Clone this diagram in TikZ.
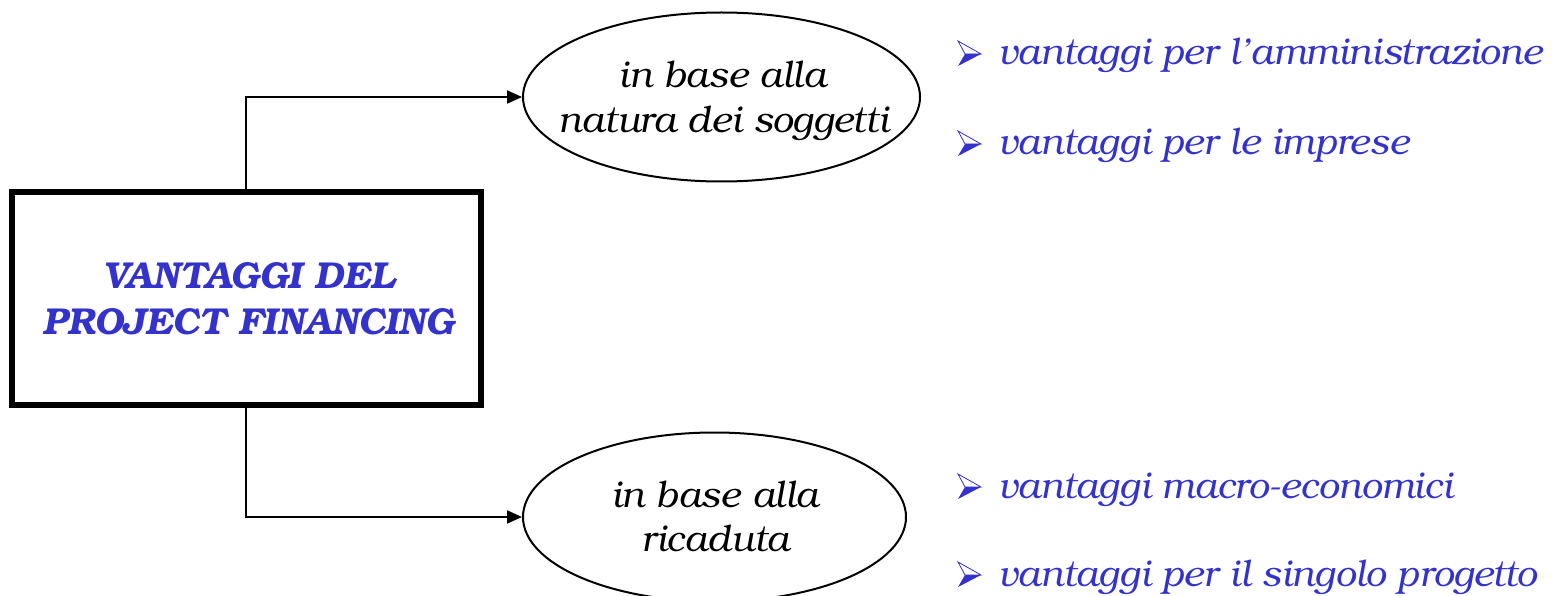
\documentclass[tikz,border=0pt]{standalone}
\usepackage{fontspec}
\setmainfont{TeX Gyre Bonum}
\usetikzlibrary{arrows.meta,shapes.geometric}
\definecolor{txtblue}{RGB}{51,51,204}
\tikzset{
  mainbox/.style={draw=black, line width=6pt, minimum width=469pt, minimum height=213pt,
    inner sep=0pt},
  boxtext/.style={anchor=base, inner sep=0pt, text=txtblue,
    font=\fontsize{37.5}{46}\selectfont\bfseries\itshape},
  topic/.style={ellipse, draw=black, line width=2pt, inner sep=0pt},
  topictext/.style={anchor=base, inner sep=0pt,
    font=\fontsize{37}{45}\selectfont\itshape},
  link/.style={line width=2pt, -{Triangle[length=15pt,width=13pt]}},
  item/.style={anchor=base west, inner sep=0pt, text=txtblue,
    font=\fontsize{37}{45}\selectfont\itshape},
  bulletmark/.pic={
    \draw[txtblue, line width=0.8pt, line join=miter] (0,-24) -- (23,-11) -- (7,-11) -- cycle;
    \fill[txtblue] (7,-11) -- (23,-11) -- (0,1) -- cycle;
  }
}
\begin{document}
\begin{tikzpicture}[x=1pt,y=-1pt]
  \useasboundingbox (0,0) rectangle (1555,596);

  % central box and its title
  \node[mainbox] (pf) at (246.5,298.5) {};
  \node[boxtext] (t1) at (249,288) {VANTAGGI DEL};
  \node[boxtext] (t2) at (248.5,334) {PROJECT FINANCING};

  % the two classification criteria
  \node[topic, minimum width=397pt, minimum height=169pt] (nat) at (721.5,97) {};
  \node[topictext] (n1) at (722.5,88) {in base alla};
  \node[topictext] (n2) at (723.5,133) {natura dei soggetti};

  \node[topic, minimum width=383pt, minimum height=169pt] (ric) at (714.5,517) {};
  \node[topictext] (r1) at (715,507) {in base alla};
  \node[topictext] (r2) at (715,551) {ricaduta};

  % elbow connectors
  \coordinate (k1) at (246,97);
  \coordinate (k2) at (246,517);
  \draw[link] (pf.north -| k1) -- (k1) -- (nat.west);
  \draw[link] (pf.south -| k2) -- (k2) -- (ric.west);

  % lists of advantages
  \node[item] (a1) at (998,65) {vantaggi per l’amministrazione};
  \node[item] (a2) at (998,155) {vantaggi per le imprese};
  \node[item] (b1) at (998,498) {vantaggi macro-economici};
  \node[item] (b2) at (998,586) {vantaggi per il singolo progetto};
  \pic at (958,65) {bulletmark};
  \pic at (958,155) {bulletmark};
  \pic at (958,498) {bulletmark};
  \pic at (958,586) {bulletmark};
\end{tikzpicture}
\end{document}
